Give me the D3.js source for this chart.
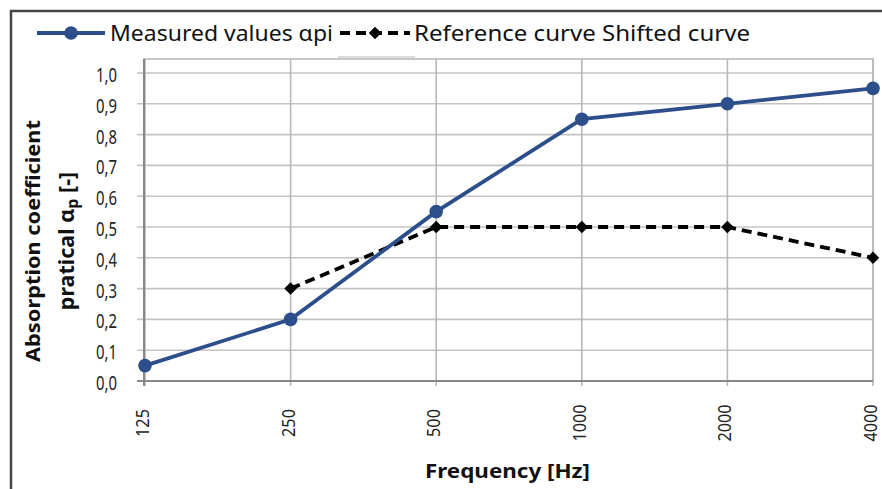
<!DOCTYPE html>
<html><head><meta charset="utf-8">
<script src="https://cdn.jsdelivr.net/npm/d3@7"></script>
<style>body{margin:0;background:#fff}svg{display:block}text{font-family:"Noto Sans",sans-serif}</style>
</head><body>
<svg id="c" width="882" height="489"></svg>
<script>
const categories = ["125","250","500","1000","2000","4000"];
const measured = [0.05, 0.20, 0.55, 0.85, 0.90, 0.95];
const reference = [null, 0.30, 0.50, 0.50, 0.50, 0.40];
const yTicks = [0,0.1,0.2,0.3,0.4,0.5,0.6,0.7,0.8,0.9,1.0];

const svg = d3.select("#c");
const x = d3.scalePoint().domain(categories).range([145, 873]);
const y = d3.scaleLinear().domain([0, 1]).range([381, 73]);
const fmt = d => d3.format(".1f")(d).replace(".", ",");

// outer frame
svg.append("path").attr("d","M11,489 V11 H882").attr("fill","none").attr("stroke","#444").attr("stroke-width",2.5);

// plot area box
svg.append("rect").attr("x",144).attr("y",59).attr("width",729).attr("height",322)
  .attr("fill","none").attr("stroke","#b5b5b5").attr("stroke-width",1.5);

// horizontal grid
svg.append("g").selectAll("line").data(yTicks).join("line")
  .attr("x1",137).attr("x2",873).attr("y1",d=>y(d)).attr("y2",d=>y(d))
  .attr("stroke","#c4c4c4").attr("stroke-width",1.6);
// vertical grid
svg.append("g").selectAll("line").data(categories).join("line")
  .attr("x1",d=>x(d)).attr("x2",d=>x(d)).attr("y1",59).attr("y2",386)
  .attr("stroke","#b8b8b8").attr("stroke-width",1.6);
// axes
svg.append("line").attr("x1",144).attr("x2",144).attr("y1",59).attr("y2",386).attr("stroke","#888").attr("stroke-width",2);
svg.append("line").attr("x1",137).attr("x2",873).attr("y1",381).attr("y2",381).attr("stroke","#888").attr("stroke-width",2);

// stray artifact line
svg.append("line").attr("x1",338).attr("x2",415).attr("y1",57).attr("y2",57).attr("stroke","#d0d0d0").attr("stroke-width",1.5);

// y tick labels
svg.append("g").selectAll("text").data(yTicks).join("text")
  .attr("x",117).attr("y",d=>y(d)+9).attr("text-anchor","end")
  .attr("font-size",19).attr("fill","#222").attr("textLength",21).attr("lengthAdjust","spacingAndGlyphs").text(fmt);

// x tick labels
svg.append("g").selectAll("text").data(categories).join("text")
  .attr("transform",d=>`translate(${x(d)+4},423) rotate(-90)`)
  .attr("text-anchor","middle").attr("font-size",17.5).attr("fill","#222")
  .attr("textLength",d=>d.length*9.3).attr("lengthAdjust","spacingAndGlyphs").text(d=>d);

// axis titles
svg.append("text").attr("x",425).attr("y",478)
  .attr("font-size",19).attr("font-weight","bold").attr("fill","#111")
  .attr("textLength",165).attr("lengthAdjust","spacingAndGlyphs").text("Frequency [Hz]");
const yt = svg.append("g").attr("transform","translate(0,241) rotate(-90)");
yt.append("text").attr("x",0).attr("y",40).attr("text-anchor","middle")
  .attr("font-size",20).attr("font-weight","bold").attr("fill","#111")
  .attr("textLength",242).attr("lengthAdjust","spacingAndGlyphs").text("Absorption coefficient");
const t2 = yt.append("text").attr("x",0).attr("y",74).attr("text-anchor","middle")
  .attr("font-size",21.5).attr("font-weight","bold").attr("fill","#111");
t2.append("tspan").text("pratical α");
t2.append("tspan").attr("font-size",16).attr("dy",4).text("p");
t2.append("tspan").attr("dy",-4).text(" [-]");

// series
const blue = "#2c4f8c";
const line = d3.line().defined(d=>d.v!=null).x(d=>x(d.c)).y(d=>y(d.v));
const mData = categories.map((c,i)=>({c, v: measured[i]}));
const rData = categories.map((c,i)=>({c, v: reference[i]}));

svg.append("path").datum(rData).attr("d",line).attr("fill","none")
  .attr("stroke","#000").attr("stroke-width",3.8).attr("stroke-dasharray","10,6");
svg.append("path").datum(mData).attr("d",line).attr("fill","none")
  .attr("stroke",blue).attr("stroke-width",3.8);

const diamond = d3.symbol().type(d3.symbolDiamond2).size(100);
svg.append("g").selectAll("path").data(rData.filter(d=>d.v!=null)).join("path")
  .attr("transform",d=>`translate(${x(d.c)},${y(d.v)})`).attr("d",diamond).attr("fill","#000");
svg.append("g").selectAll("circle").data(mData).join("circle")
  .attr("cx",d=>x(d.c)).attr("cy",d=>y(d.v)).attr("r",6.8).attr("fill",blue);

// legend
const lg = svg.append("g");
lg.append("line").attr("x1",37).attr("x2",105).attr("y1",33).attr("y2",33).attr("stroke",blue).attr("stroke-width",3.8);
lg.append("circle").attr("cx",71).attr("cy",33).attr("r",6.8).attr("fill",blue);
lg.append("text").attr("x",110).attr("y",41).attr("font-size",22).attr("fill","#111")
  .attr("textLength",223).attr("lengthAdjust","spacingAndGlyphs").text("Measured values αpi");
lg.append("line").attr("x1",340).attr("x2",410).attr("y1",33).attr("y2",33).attr("stroke","#000").attr("stroke-width",4).attr("stroke-dasharray","10,6");
lg.append("path").attr("transform","translate(375,33)").attr("d",diamond).attr("fill","#000");
lg.append("text").attr("x",414).attr("y",41).attr("font-size",22).attr("fill","#111")
  .attr("textLength",336).attr("lengthAdjust","spacingAndGlyphs").text("Reference curve Shifted curve");
</script>
</body></html>
